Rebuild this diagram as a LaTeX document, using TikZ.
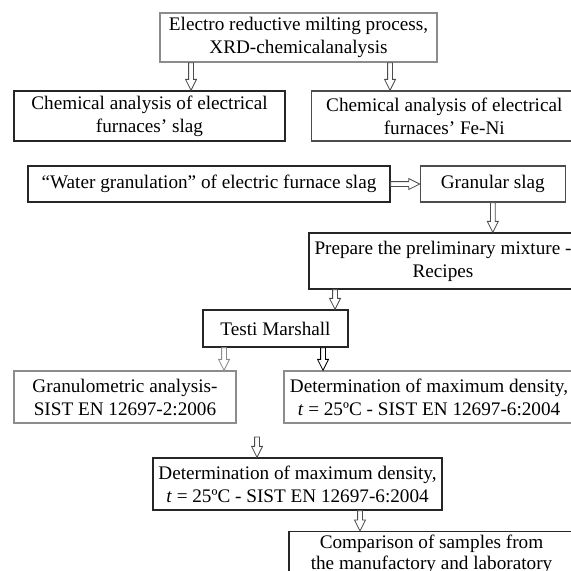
\documentclass[tikz,border=0pt]{standalone}
\usepackage{fontspec}
\setmainfont{Liberation Serif}
\usetikzlibrary{positioning, calc}
\definecolor{darkline}{gray}{0.15}
\definecolor{midline}{gray}{0.3}
\definecolor{lightline}{gray}{0.55}
\tikzset{
  flowbox/.style  = {draw=darkline, line width=1.3pt, align=center,
                     inner sep=0pt, fill=white,
                     font=\fontsize{19.2}{23}\selectfont},
  flowmid/.style  = {flowbox, draw=midline},
  flowgray/.style = {flowbox, draw=lightline},
  hollowarr/.style = {draw=midline, line width=0.8pt, fill=white,
    to path={($(\tikztotarget)!11pt!(\tikztostart)$) coordinate (ah)
      ($(\tikztostart)!2.4pt!90:(\tikztotarget)$)
      -- ($(ah)!2.4pt!-90:(\tikztostart)$)
      -- ($(ah)!5.5pt!-90:(\tikztostart)$) -- (\tikztotarget)
      -- ($(ah)!5.5pt!90:(\tikztostart)$)
      -- ($(ah)!2.4pt!90:(\tikztostart)$)
      -- ($(\tikztostart)!2.4pt!-90:(\tikztotarget)$) -- cycle}}
}

\begin{document}
\begin{tikzpicture}[x=1pt, y=-1pt]
  \useasboundingbox[fill=white] (0,0) rectangle (571,571);

  % boxes
  \node[flowgray, minimum width=277pt, minimum height=49pt] (top) at (298.5,37.5)
        {Electro reductive milting process,\\XRD-chemicalanalysis};
  \node[flowbox, minimum width=271pt, minimum height=50pt] (slag) at (149.5,116)
        {Chemical analysis of electrical\\furnaces’ slag};
  \node[flowmid, minimum width=266pt, minimum height=50pt, right=25pt of slag] (feni)
        {Chemical analysis of electrical\\furnaces’ Fe-Ni};
  \node[flowbox, minimum width=362pt, minimum height=36pt] (water) at (209,184)
        {“Water granulation” of electric furnace slag};
  \node[flowmid, minimum width=145pt, minimum height=36pt, right=29pt of water] (gran)
        {Granular slag};
  \node[flowbox, minimum width=268pt, minimum height=56pt] (prep) at (443,261)
        {Prepare the preliminary mixture -\\Recipes};
  \node[flowbox, minimum width=145pt, minimum height=37pt] (testi) at (275.5,328.5)
        {Testi Marshall};
  \node[flowgray, minimum width=222pt, minimum height=52pt] (granulo) at (125,397)
        {Granulometric analysis-\\SIST EN 12697-2:2006};
  \node[flowgray, minimum width=290pt, minimum height=52pt] (rdet) at (429,397)
        {Determination of maximum density,\\\textit{t} = 25ºC - SIST EN 12697-6:2004};
  \node[flowbox, minimum width=289pt, minimum height=52pt] (mdet) at (297.5,484)
        {Determination of maximum density,\\\textit{t} = 25ºC - SIST EN 12697-6:2004};
  \node[flowbox, minimum width=285pt, inner ysep=3pt, text depth=20pt,
        font=\fontsize{19.2}{21}\selectfont, anchor=north] (comp) at (431.5,531)
        {Comparison of samples from\\the manufactory and laboratory};

  % arrow ends
  \coordinate (t1) at ([xshift=-107.5pt]top.south);
  \coordinate (t2) at ([xshift=91.5pt]top.south);
  \coordinate (p1) at ([xshift=-108pt]prep.south);
  \coordinate (m1) at ([xshift=-51.5pt]testi.south);
  \coordinate (m2) at ([xshift=47.5pt]testi.south);
  \coordinate (d0) at (257,437);
  \coordinate (d1) at ([xshift=62.5pt]mdet.south);

  \draw[hollowarr] (t1) to (t1 |- slag.north);
  \draw[hollowarr] (t2) to (t2 |- feni.north);
  \draw[hollowarr] (water.east) to (gran.west);
  \draw[hollowarr] (gran.south) to (gran.south |- prep.north);
  \draw[hollowarr] (p1) to (p1 |- testi.north);
  \draw[hollowarr, draw=lightline] (m1) to (m1 |- granulo.north);
  \draw[hollowarr, draw=black] (m2) to (m2 |- rdet.north);
  \draw[hollowarr] (d0) to (d0 |- mdet.north);
  \draw[hollowarr] (d1) to (d1 |- comp.north);
\end{tikzpicture}
\end{document}
